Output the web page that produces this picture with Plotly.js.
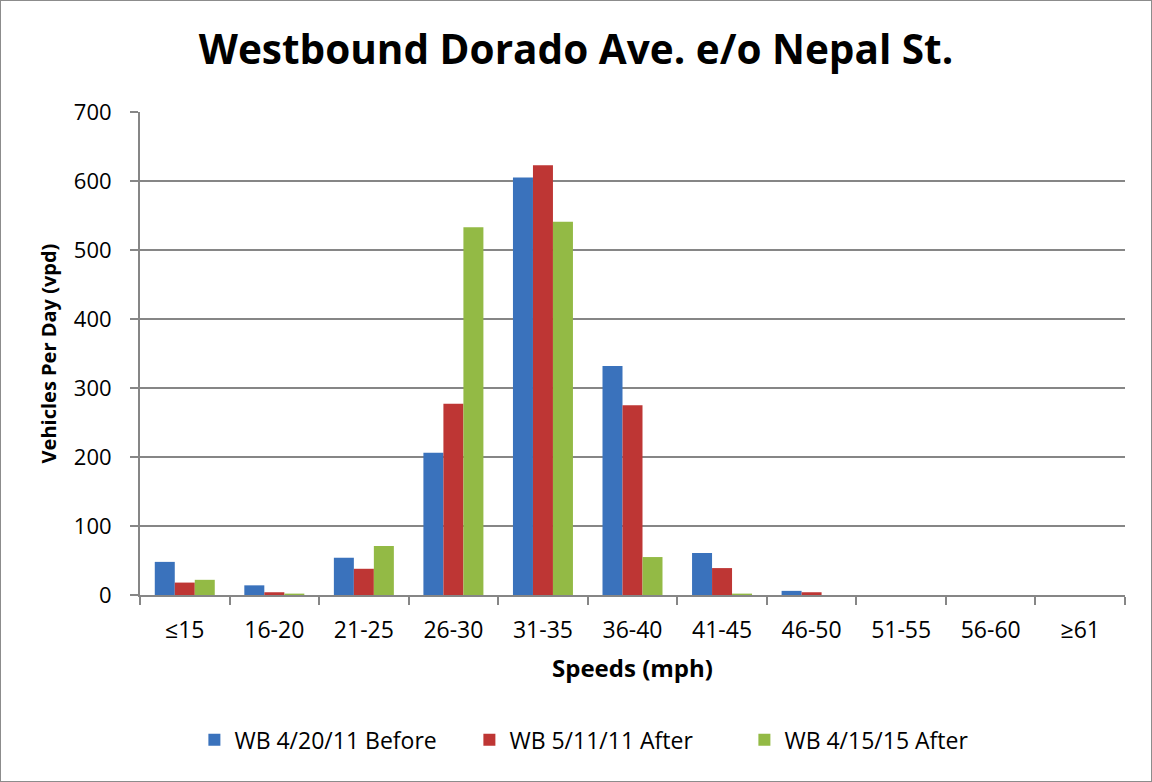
<!DOCTYPE html>
<html>
<head>
<meta charset="utf-8">
<script src="https://cdn.plot.ly/plotly-3.0.1.min.js"></script>
<style>
html,body{margin:0;padding:0;background:#fff;}
#chart{width:1150px;height:780px;border:1px solid #8c8c8c;}
</style>
</head>
<body>
<div id="chart"></div>
<script>
const categories = ["≤15","16-20","21-25","26-30","31-35","36-40","41-45","46-50","51-55","56-60","≥61"];
const before2011 = [48, 14, 54, 206, 605, 332, 61, 6, 0, 0, 0];
const after2011 = [18, 4, 38, 277, 623, 275, 39, 4, 0, 0, 0];
const after2015 = [22, 2, 71, 533, 541, 55, 2, 0, 0, 0, 0];
const seriesNames = ["WB 4/20/11 Before", "WB 5/11/11 After", "WB 4/15/15 After"];
const yTicks = [0, 100, 200, 300, 400, 500, 600, 700];

const font = "'Open Sans', sans-serif";
const colors = ["#3A72BC", "#BE3634", "#93BA45"];
const data = [before2011, after2011, after2015].map((v, i) => ({
  type: "bar",
  x: categories,
  y: v,
  name: seriesNames[i],
  marker: {color: colors[i], line: {width: 0}},
  hoverinfo: "x+y+name"
}));

const layout = {
  width: 1150, height: 780,
  margin: {l: 139, r: 26, t: 111, b: 186},
  paper_bgcolor: "#fff", plot_bgcolor: "#fff",
  font: {family: font, color: "#000", size: 18},
  title: {text: "<b>Westbound Dorado Ave. e/o Nepal St.</b>", x: 0.5, xanchor: "center", y: 0.937, yanchor: "middle", font: {family: font, size: 40.5, color: "#000"}},
  barmode: "group",
  bargap: 0.33,
  bargroupgap: 0,
  xaxis: {
    type: "category",
    title: {text: "<b>Speeds (mph)</b>", font: {family: font, size: 24}, standoff: 17},
    showline: true, linecolor: "#868686", linewidth: 2,
    ticks: "outside", tickson: "boundaries", ticklen: 8, tickcolor: "#868686", tickwidth: 2,
    tickfont: {family: font, size: 23},
    ticklabelstandoff: 13,
    showgrid: false, zeroline: false
  },
  yaxis: {
    range: [0, 700], tickvals: yTicks,
    title: {text: "<b>Vehicles Per Day (vpd)</b>", font: {family: font, size: 20}, standoff: 12},
    showline: true, linecolor: "#868686", linewidth: 2,
    ticks: "outside", ticklen: 8, tickcolor: "#868686", tickwidth: 2,
    tickfont: {family: font, size: 22},
    ticklabelstandoff: 14,
    showgrid: true, gridcolor: "#868686", gridwidth: 1.5, zeroline: false
  },
  legend: {orientation: "h", x: 0.474, xanchor: "center", y: -0.3, yanchor: "middle", font: {family: font, size: 23}, itemwidth: 30, entrywidth: 230, entrywidthmode: "pixels", tracegroupgap: 0},
  showlegend: true
};

Plotly.newPlot("chart", data, layout, {displayModeBar: false, staticPlot: true});
</script>
</body>
</html>
